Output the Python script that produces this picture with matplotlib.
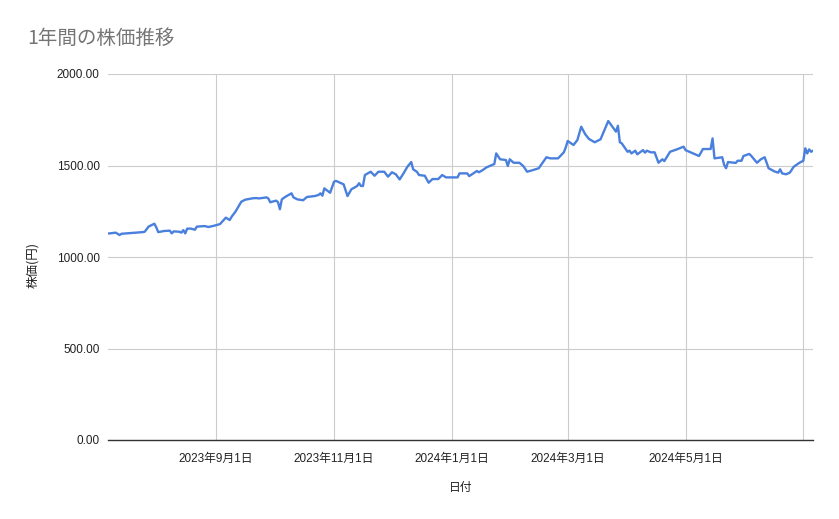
import numpy as np
import pandas as pd
import matplotlib
matplotlib.use('Agg')
from matplotlib import pyplot as plt
from matplotlib import dates as mdates
from matplotlib.ticker import FormatStrFormatter

# 日付と株価
dates = [
    '2023-07-07', '2023-07-11', '2023-07-13', '2023-07-14', '2023-07-19', '2023-07-25',
    '2023-07-26', '2023-07-28', '2023-07-31', '2023-08-01', '2023-08-02', '2023-08-05',
    '2023-08-08', '2023-08-09', '2023-08-10', '2023-08-13', '2023-08-14', '2023-08-15',
    '2023-08-16', '2023-08-17', '2023-08-19', '2023-08-21', '2023-08-22', '2023-08-26',
    '2023-08-28', '2023-08-31', '2023-09-03', '2023-09-06', '2023-09-08', '2023-09-09',
    '2023-09-11', '2023-09-14', '2023-09-16', '2023-09-20', '2023-09-22', '2023-09-23',
    '2023-09-26', '2023-09-27', '2023-09-28', '2023-09-29', '2023-10-02', '2023-10-03',
    '2023-10-04', '2023-10-05', '2023-10-07', '2023-10-10', '2023-10-11', '2023-10-13',
    '2023-10-16', '2023-10-18', '2023-10-22', '2023-10-24', '2023-10-25', '2023-10-26',
    '2023-10-27', '2023-10-30', '2023-11-01', '2023-11-02', '2023-11-06', '2023-11-08',
    '2023-11-10', '2023-11-13', '2023-11-14', '2023-11-15', '2023-11-16', '2023-11-17',
    '2023-11-20', '2023-11-22', '2023-11-24', '2023-11-27', '2023-11-29', '2023-12-01',
    '2023-12-03', '2023-12-05', '2023-12-07', '2023-12-09', '2023-12-11', '2023-12-12',
    '2023-12-14', '2023-12-15', '2023-12-18', '2023-12-20', '2023-12-22', '2023-12-25',
    '2023-12-27', '2023-12-29', '2023-12-31', '2024-01-04', '2024-01-05', '2024-01-09',
    '2024-01-10', '2024-01-13', '2024-01-14', '2024-01-15', '2024-01-17', '2024-01-19',
    '2024-01-23', '2024-01-24', '2024-01-26', '2024-01-29', '2024-01-30', '2024-01-31',
    '2024-02-02', '2024-02-05', '2024-02-07', '2024-02-09', '2024-02-12', '2024-02-15',
    '2024-02-19', '2024-02-21', '2024-02-25', '2024-02-28', '2024-02-29', '2024-03-01',
    '2024-03-04', '2024-03-06', '2024-03-08', '2024-03-10', '2024-03-12', '2024-03-15',
    '2024-03-18', '2024-03-22', '2024-03-26', '2024-03-27', '2024-03-28', '2024-03-29',
    '2024-04-01', '2024-04-02', '2024-04-03', '2024-04-05', '2024-04-06', '2024-04-09',
    '2024-04-10', '2024-04-11', '2024-04-13', '2024-04-15', '2024-04-17', '2024-04-19',
    '2024-04-20', '2024-04-23', '2024-04-27', '2024-04-30', '2024-05-01', '2024-05-08',
    '2024-05-10', '2024-05-14', '2024-05-15', '2024-05-16', '2024-05-20', '2024-05-21',
    '2024-05-22', '2024-05-23', '2024-05-27', '2024-05-28', '2024-05-30', '2024-05-31',
    '2024-06-03', '2024-06-04', '2024-06-07', '2024-06-09', '2024-06-11', '2024-06-13',
    '2024-06-16', '2024-06-18', '2024-06-19', '2024-06-20', '2024-06-22', '2024-06-24',
    '2024-06-26', '2024-06-29', '2024-07-01', '2024-07-02', '2024-07-03', '2024-07-04',
    '2024-07-05', '2024-07-06',
]
prices = [
    1128, 1133, 1120, 1127, 1131, 1136,
    1138, 1166, 1182, 1162, 1136, 1142,
    1144, 1129, 1140, 1138, 1133, 1147,
    1129, 1155, 1155, 1149, 1166, 1169,
    1164, 1171, 1180, 1215, 1202, 1220,
    1248, 1302, 1313, 1321, 1322, 1320,
    1324, 1326, 1320, 1299, 1308, 1300,
    1261, 1315, 1330, 1348, 1326, 1315,
    1310, 1328, 1333, 1339, 1348, 1335,
    1375, 1351, 1411, 1416, 1397, 1333,
    1370, 1388, 1403, 1388, 1388, 1448,
    1466, 1444, 1466, 1466, 1439, 1463,
    1452, 1424, 1457, 1493, 1519, 1479,
    1465, 1448, 1444, 1406, 1426, 1426,
    1448, 1435, 1435, 1435, 1457, 1457,
    1442, 1463, 1470, 1463, 1475, 1490,
    1508, 1566, 1534, 1530, 1497, 1534,
    1515, 1515, 1497, 1466, 1475, 1485,
    1545, 1539, 1539, 1572, 1599, 1634,
    1612, 1639, 1712, 1672, 1645, 1627,
    1643, 1743, 1685, 1717, 1627, 1621,
    1575, 1581, 1566, 1581, 1561, 1584,
    1570, 1581, 1572, 1572, 1515, 1534,
    1524, 1575, 1590, 1603, 1584, 1552,
    1590, 1590, 1648, 1539, 1545, 1503,
    1485, 1519, 1514, 1526, 1526, 1552,
    1563, 1553, 1515, 1534, 1545, 1485,
    1468, 1461, 1479, 1457, 1452, 1461,
    1493, 1515, 1526, 1594, 1566, 1588,
    1575, 1581,
]

tick_dates = ['2023-09-01', '2023-11-01', '2024-01-01', '2024-03-01', '2024-05-01', '2024-07-01']
tick_labels = ['2023年9月1日', '2023年11月1日', '2024年1月1日', '2024年3月1日', '2024年5月1日', '']
y_ticks = [0, 500, 1000, 1500, 2000]

CJK = 'Noto Sans CJK JP'
LATIN = ['Liberation Sans', CJK]

def main():
    x = pd.to_datetime(dates)
    y = np.array(prices)

    fig = plt.figure(figsize=(8.39, 5.19), dpi=100)
    ax = fig.add_axes([108 / 839, 1 - 440 / 519, 705 / 839, 366 / 519])

    ax.plot(x, y, color='#4a80dd', lw=1.7, solid_joinstyle='round')

    ax.set_xlim(x[0], x[-1])
    ax.set_ylim(0, 2000)
    ax.set_yticks(y_ticks)
    ax.yaxis.set_major_formatter(FormatStrFormatter('%.2f'))
    ax.set_xticks(mdates.date2num(pd.to_datetime(tick_dates)))
    ax.set_xticklabels(tick_labels)

    ax.grid(True, color='#cccccc', lw=0.8)
    ax.set_axisbelow(True)
    for s in ['top', 'right', 'left']:
        ax.spines[s].set_visible(False)
    ax.spines['bottom'].set_color('#333333')
    ax.spines['bottom'].set_linewidth(1.0)
    ax.tick_params(length=0, pad=6, labelsize=8.5, labelcolor='#222222')
    ax.tick_params(axis='x', pad=9)
    for lbl in ax.get_xticklabels() + ax.get_yticklabels():
        lbl.set_family(LATIN)

    fig.text(27 / 839, 1 - 38 / 519, '1年間の株価推移', family=CJK, fontsize=14,
             color='#757575', ha='left', va='center')
    fig.text(33 / 839, 1 - 265 / 519, '株価(円)', family=CJK, fontsize=9,
             color='#222222', rotation=90, ha='center', va='center')
    fig.text(461 / 839, 1 - 487 / 519, '日付', family=CJK, fontsize=8.5,
             color='#222222', ha='center', va='center')

    fig.savefig('out.png', dpi=100)

if __name__ == '__main__':
    main()
